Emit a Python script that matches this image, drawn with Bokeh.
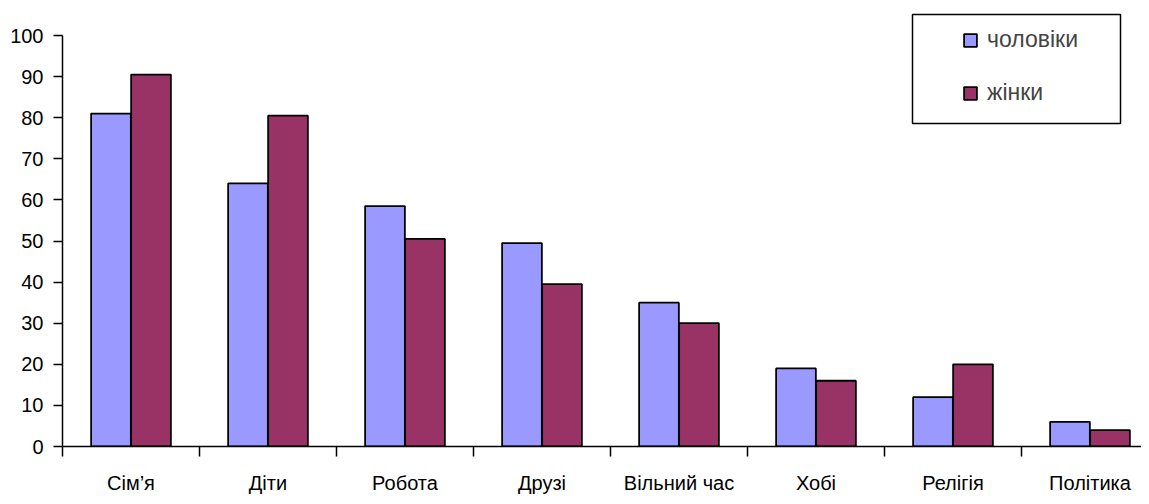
from bokeh.plotting import figure
from bokeh.models import Range1d, FixedTicker, Legend, LegendItem, BoxAnnotation, ColumnDataSource
from bokeh.transform import dodge
from bokeh.embed import file_html
from bokeh.resources import INLINE

categories = ["Сім’я", "Діти", "Робота", "Друзі", "Вільний час", "Хобі", "Релігія", "Політика"]
men = [81, 64, 58.5, 49.5, 35, 19, 12, 6]
women = [90.5, 80.5, 50.5, 39.5, 30, 16, 20, 4]
series_names = ["чоловіки", "жінки"]
y_ticks = [0, 10, 20, 30, 40, 50, 60, 70, 80, 90, 100]

FONT = "Liberation Sans"
MEN_COLOR = "#9999FF"
WOMEN_COLOR = "#993366"

n = len(categories)
centers = [i + 0.5 for i in range(n)]
src = ColumnDataSource(dict(x=centers, men=men, women=women))

W, H = 1141, 496
left_b = 62
zero_px = 446
bottom_b = H - zero_px
frame_w = W - left_b
cat_px = 137.0
px_per_unit = 4.11
x_end = frame_w / cat_px
y_end = zero_px / px_per_unit

p = figure(width=W, height=H, output_backend="svg", toolbar_location=None,
           x_range=Range1d(0, x_end), y_range=Range1d(0, y_end),
           min_border_left=left_b, min_border_right=0, min_border_top=0,
           min_border_bottom=bottom_b)
p.outline_line_color = None
p.xgrid.visible = False
p.ygrid.visible = False
p.background_fill_color = "white"
p.border_fill_color = "white"

bw = 0.29
off = 0.146
r1 = p.vbar(x=dodge("x", -off), top="men", width=bw, source=src,
            fill_color=MEN_COLOR, line_color="black", line_width=1.8)
r2 = p.vbar(x=dodge("x", off), top="women", width=bw, source=src,
            fill_color=WOMEN_COLOR, line_color="black", line_width=1.8)

# x axis
xa = p.xaxis[0]
xa.ticker = FixedTicker(ticks=centers, minor_ticks=list(range(n + 1)))
xa.major_label_overrides = {c: lab for c, lab in zip(centers, categories)}
xa.major_tick_out = 0
xa.major_tick_in = 0
xa.minor_tick_out = 10
xa.minor_tick_in = 0
xa.minor_tick_line_color = "black"
xa.minor_tick_line_width = 1.5
xa.axis_line_color = "black"
xa.axis_line_width = 1.5
xa.major_label_standoff = 15
xa.major_label_text_font = FONT
xa.major_label_text_font_size = "20px"
xa.major_label_text_color = "black"
xa.bounds = (0, x_end)

# y axis
ya = p.yaxis[0]
ya.ticker = FixedTicker(ticks=y_ticks)
ya.bounds = (0, 100)
ya.major_tick_out = 9
ya.major_tick_in = 0
ya.minor_tick_out = 0
ya.minor_tick_in = 0
ya.major_tick_line_width = 1.5
ya.axis_line_width = 1.5
ya.major_label_standoff = 10
ya.major_label_text_font = FONT
ya.major_label_text_font_size = "20px"
ya.major_label_text_color = "black"

# legend frame
box = BoxAnnotation(left=(912 - left_b) / cat_px, right=(1120 - left_b) / cat_px,
                    bottom=(zero_px - 123) / px_per_unit, top=(zero_px - 14) / px_per_unit,
                    fill_alpha=0, line_color="black", line_width=1.5, line_alpha=1)
p.add_layout(box)

legend = Legend(items=[LegendItem(label=series_names[0], renderers=[r1]),
                       LegendItem(label=series_names[1], renderers=[r2])],
                location=(962 - left_b, 340), padding=0, margin=0, spacing=26,
                glyph_width=16, glyph_height=16, label_standoff=9,
                label_text_font=FONT, label_text_font_size="23px",
                border_line_color=None, background_fill_alpha=0)
p.add_layout(legend)

open("out.html", "w").write(file_html(p, INLINE))
